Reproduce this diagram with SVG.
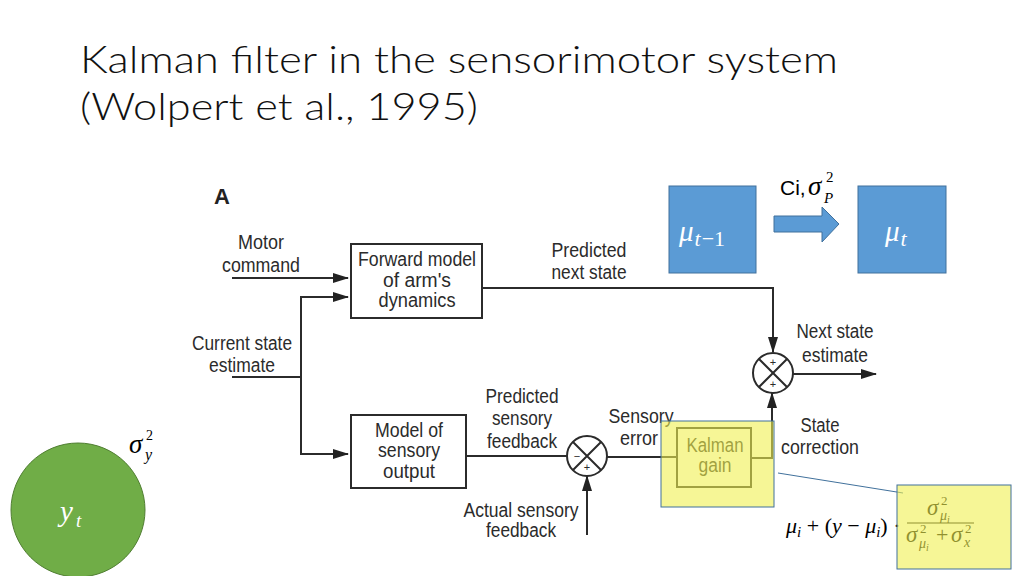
<svg xmlns="http://www.w3.org/2000/svg" width="1024" height="576" viewBox="0 0 1024 576">
<defs>
<marker id="ah" markerWidth="16" markerHeight="10" refX="15" refY="5" orient="auto" markerUnits="userSpaceOnUse">
<path d="M0,0 L16,5 L0,10 z" fill="#222"/>
</marker>
<style>
.title{font-family:Lato,"Open Sans","Liberation Sans",sans-serif;font-weight:300;font-size:37px;fill:#111}
.s{font-family:"Liberation Sans Narrow","Liberation Sans",Arial,sans-serif;font-size:20px;fill:#2b2b2b}
.box{fill:#fff;stroke:#2b2b2b;stroke-width:2}
.ln{fill:none;stroke:#2b2b2b;stroke-width:2}
.sum{fill:#fff;stroke:#2b2b2b;stroke-width:2}
.sign{font-family:"Liberation Sans",Arial,sans-serif;font-size:11px;fill:#2b2b2b;text-anchor:middle}
.blue{fill:#5b9bd5;stroke:#41719c;stroke-width:1}
.m{font-family:"Liberation Serif","DejaVu Serif",serif;font-style:italic}
.mu{font-family:"Liberation Serif","DejaVu Serif",serif}
.hl{fill:#f0f050;fill-opacity:0.6;stroke:#41719c;stroke-width:1}
</style>
</defs>
<rect width="1024" height="576" fill="#fff"/>

<g id="title">
<text class="title" x="80" y="73" textLength="758" lengthAdjust="spacingAndGlyphs">Kalman filter in the sensorimotor system</text>
<text class="title" x="80" y="120" textLength="398" lengthAdjust="spacingAndGlyphs">(Wolpert et al., 1995)</text>
</g>

<g id="label-A"><text x="214" y="204" font-family="Liberation Sans,Arial,sans-serif" font-weight="bold" font-size="22" fill="#222">A</text></g>

<g id="connectors">
<line class="ln" x1="232" y1="278" x2="348" y2="278" marker-end="url(#ah)"/>
<polyline class="ln" points="232,377 301,377"/>
<polyline class="ln" points="301,454 301,297 348,297" marker-end="url(#ah)"/>
<polyline class="ln" points="301,440 301,454 348,454" marker-end="url(#ah)"/>
<polyline class="ln" points="482,288 773,288 773,352" marker-end="url(#ah)"/>
<line class="ln" x1="466" y1="456" x2="567" y2="456"/>
<line class="ln" x1="587" y1="535" x2="587" y2="476" marker-end="url(#ah)"/>
<line class="ln" x1="607" y1="457" x2="677" y2="457"/>
<polyline class="ln" points="751,458 772,458 772,393" marker-end="url(#ah)"/>
<line class="ln" x1="793" y1="374" x2="876" y2="374" marker-end="url(#ah)"/>
<line x1="778" y1="473" x2="903" y2="493" stroke="#41719c" stroke-width="1"/>
</g>

<g id="motor-command">
<text class="s" x="238" y="249" textLength="46" lengthAdjust="spacingAndGlyphs">Motor</text>
<text class="s" x="222" y="272" textLength="78" lengthAdjust="spacingAndGlyphs">command</text>
</g>
<g id="current-state">
<text class="s" x="192" y="350" textLength="100" lengthAdjust="spacingAndGlyphs">Current state</text>
<text class="s" x="209" y="372" textLength="66" lengthAdjust="spacingAndGlyphs">estimate</text>
</g>
<g id="forward-model">
<rect class="box" x="351" y="244" width="131" height="74"/>
<text class="s" x="358" y="266" textLength="118" lengthAdjust="spacingAndGlyphs">Forward model</text>
<text class="s" x="383" y="287" textLength="68" lengthAdjust="spacingAndGlyphs">of arm's</text>
<text class="s" x="378.5" y="307" textLength="77" lengthAdjust="spacingAndGlyphs">dynamics</text>
</g>
<g id="predicted-next-state">
<text class="s" x="551.5" y="257" textLength="75" lengthAdjust="spacingAndGlyphs">Predicted</text>
<text class="s" x="551.5" y="279" textLength="75" lengthAdjust="spacingAndGlyphs">next state</text>
</g>
<g id="sensory-model">
<rect class="box" x="351" y="415" width="115" height="73"/>
<text class="s" x="375" y="437" textLength="68" lengthAdjust="spacingAndGlyphs">Model of</text>
<text class="s" x="378" y="457" textLength="62" lengthAdjust="spacingAndGlyphs">sensory</text>
<text class="s" x="383" y="478" textLength="52" lengthAdjust="spacingAndGlyphs">output</text>
</g>
<g id="predicted-feedback">
<text class="s" x="485.5" y="403" textLength="73" lengthAdjust="spacingAndGlyphs">Predicted</text>
<text class="s" x="492" y="425" textLength="60" lengthAdjust="spacingAndGlyphs">sensory</text>
<text class="s" x="487" y="448" textLength="70" lengthAdjust="spacingAndGlyphs">feedback</text>
</g>
<g id="actual-feedback">
<text class="s" x="463.5" y="517" textLength="115" lengthAdjust="spacingAndGlyphs">Actual sensory</text>
<text class="s" x="486" y="537" textLength="70" lengthAdjust="spacingAndGlyphs">feedback</text>
</g>
<g id="sum-sensory">
<circle class="sum" cx="587" cy="456" r="20"/>
<path class="ln" d="M573,442 L601,470 M601,442 L573,470" stroke-width="1.6"/>
<text class="sign" x="577" y="460">−</text>
<text class="sign" x="587" y="471">+</text>
</g>
<g id="sensory-error">
<text class="s" x="608.5" y="423" textLength="65" lengthAdjust="spacingAndGlyphs">Sensory</text>
<text class="s" x="620" y="445" textLength="38" lengthAdjust="spacingAndGlyphs">error</text>
</g>
<g id="kalman-gain">
<rect class="box" x="677" y="428" width="74" height="59"/>
<text class="s" x="686.5" y="452" textLength="57" lengthAdjust="spacingAndGlyphs">Kalman</text>
<text class="s" x="698.5" y="472" textLength="33" lengthAdjust="spacingAndGlyphs">gain</text>
</g>
<g id="state-correction">
<text class="s" x="800.5" y="432" textLength="39" lengthAdjust="spacingAndGlyphs">State</text>
<text class="s" x="781" y="454" textLength="78" lengthAdjust="spacingAndGlyphs">correction</text>
</g>
<g id="sum-state">
<circle class="sum" cx="773" cy="373" r="20"/>
<path class="ln" d="M759,359 L787,387 M787,359 L759,387" stroke-width="1.6"/>
<text class="sign" x="773" y="366">+</text>
<text class="sign" x="773" y="388">+</text>
</g>
<g id="next-state">
<text class="s" x="796.5" y="338" textLength="77" lengthAdjust="spacingAndGlyphs">Next state</text>
<text class="s" x="802" y="362" textLength="66" lengthAdjust="spacingAndGlyphs">estimate</text>
</g>

<g id="mu-prev">
<rect class="blue" x="669" y="186" width="87" height="87"/>
<text class="m" x="679" y="241" font-size="29" fill="#fff">μ<tspan font-size="22" dy="5" dx="1">t</tspan><tspan class="mu" font-style="normal" font-size="22" dx="1">−1</tspan></text>
</g>
<g id="transition">
<polygon class="blue" points="774,216 822,216 822,207 839,224 822,242 822,232 774,232"/>
<text x="780" y="195" font-family="'Liberation Sans',Arial,sans-serif" font-size="21" fill="#000">Ci,</text>
<text class="m" x="808" y="195" font-size="27" fill="#000">σ</text>
<text class="mu" x="826" y="182" font-size="15" fill="#000">2</text>
<text class="m" x="824" y="203" font-size="15" fill="#000">P</text>
</g>
<g id="mu-t">
<rect class="blue" x="858" y="186" width="88" height="87"/>
<text class="m" x="885" y="241" font-size="29" fill="#fff">μ<tspan font-size="22" dy="5" dx="1">t</tspan></text>
</g>

<g id="y-t">
<circle cx="78" cy="510" r="67" fill="#70ad47" stroke="#507e32" stroke-width="1"/>
<text class="m" x="60" y="521" font-size="29" fill="#fff">y</text>
<text class="m" x="76" y="527" font-size="19" fill="#fff">t</text>
<text class="m" x="129" y="453" font-size="27" fill="#000">σ</text>
<text class="mu" x="146" y="440" font-size="14" fill="#000">2</text>
<text class="m" x="145" y="460" font-size="16" fill="#000">y</text>
</g>

<g id="formula">
<text class="mu" x="786" y="533" font-size="22" fill="#000"><tspan font-style="italic">μ</tspan><tspan font-style="italic" font-size="15" dy="4">i</tspan><tspan dy="-4"> + (</tspan><tspan font-style="italic">y</tspan><tspan> − </tspan><tspan font-style="italic">μ</tspan><tspan font-style="italic" font-size="15" dy="4">i</tspan><tspan dy="-4">) ·</tspan></text>
<text class="m" x="927" y="515" font-size="23" fill="#000">σ</text>
<text class="mu" x="941" y="505" font-size="13" fill="#000">2</text>
<text class="m" x="940" y="520" font-size="14" fill="#000">μ</text>
<text class="m" x="947" y="523" font-size="10" fill="#000">i</text>
<line x1="907" y1="523" x2="974" y2="523" stroke="#000" stroke-width="1.2"/>
<text class="m" x="906" y="542" font-size="23" fill="#000">σ</text>
<text class="mu" x="920" y="533" font-size="13" fill="#000">2</text>
<text class="m" x="919" y="548" font-size="14" fill="#000">μ</text>
<text class="m" x="926" y="551" font-size="10" fill="#000">i</text>
<text class="mu" x="936" y="542" font-size="22" fill="#000">+</text>
<text class="m" x="951" y="542" font-size="23" fill="#000">σ</text>
<text class="mu" x="965" y="533" font-size="13" fill="#000">2</text>
<text class="m" x="964" y="547" font-size="14" fill="#000">x</text>
</g>

<g id="highlights">
<rect class="hl" x="661" y="421" width="113" height="86"/>
<rect class="hl" x="897" y="485" width="114" height="84"/>
</g>
</svg>
